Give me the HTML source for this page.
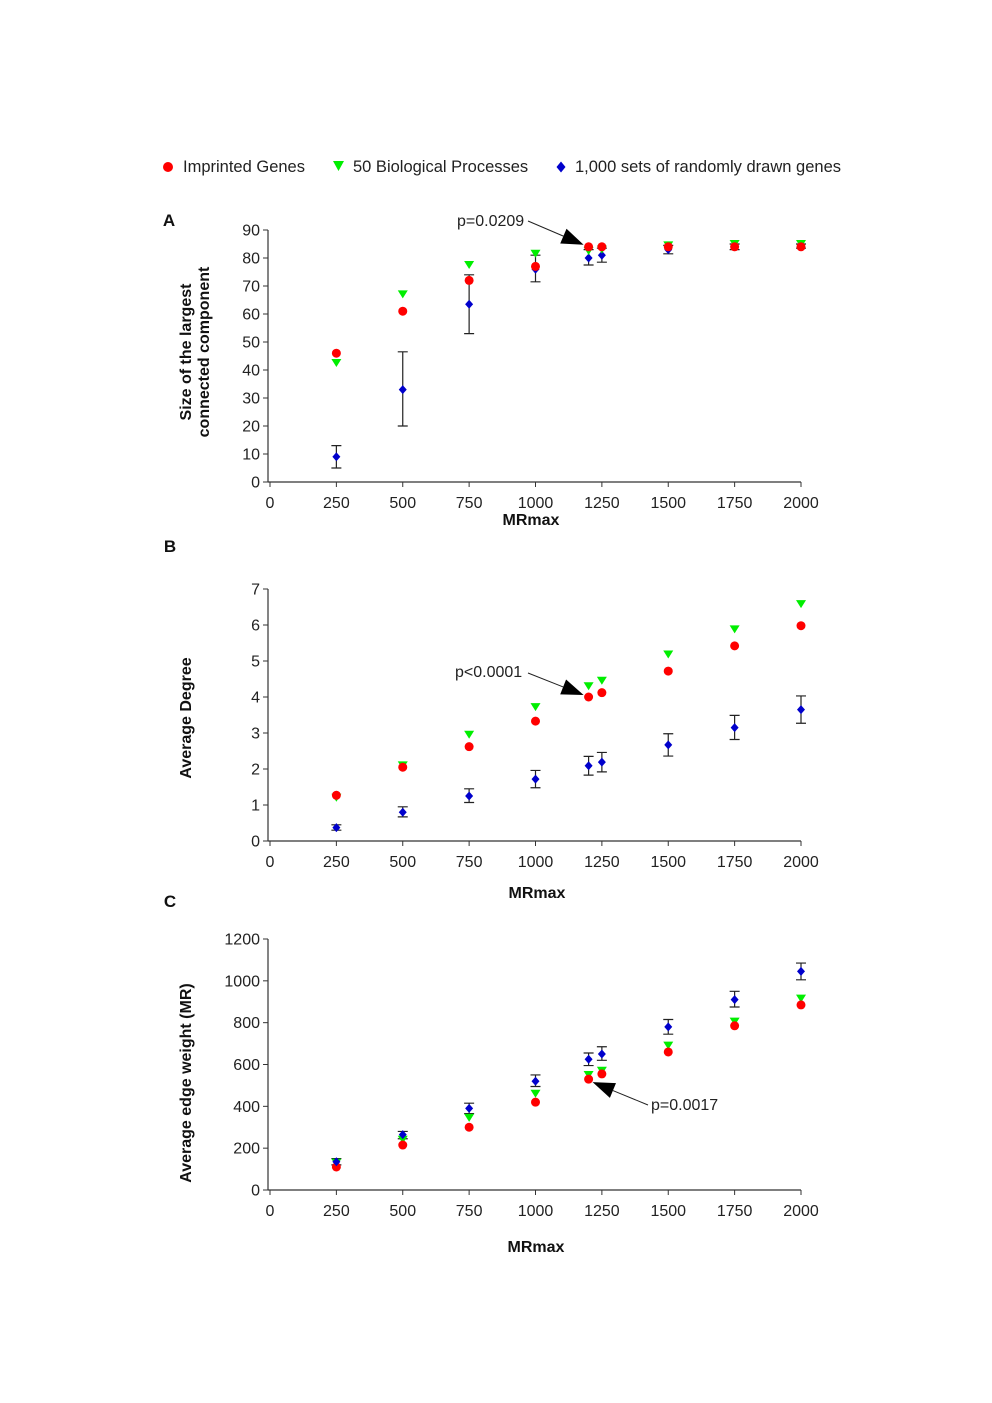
<!DOCTYPE html>
<html><head><meta charset="utf-8"><style>
html,body{margin:0;padding:0;background:#fff}
svg{display:block;font-family:"Liberation Sans",Arial,sans-serif}
</style></head><body>
<svg id="fig" width="992" height="1403" viewBox="0 0 992 1403">
<g font-size="16.5" fill="#222">
  <circle cx="168" cy="167" r="5" fill="#ff0000"/>
  <text x="183" y="172">Imprinted Genes</text>
  <polygon points="333,161 344,161 338.5,171" fill="#00ee00"/>
  <text x="353" y="172">50 Biological Processes</text>
  <polygon points="561,161.5 565.5,167 561,172.5 556.5,167" fill="#0000cc"/>
  <text x="575" y="172">1,000 sets of randomly drawn genes</text>
</g>
<g id="plots"></g>
</svg>
<script>
const xCats = [250, 500, 750, 1000, 1200, 1250, 1500, 1750, 2000];
const xTicks = [0, 250, 500, 750, 1000, 1250, 1500, 1750, 2000];

const aRed = [46, 61, 72, 77, 84, 84, 84, 84, 84];
const aGreen = [42.5, 67, 77.5, 81.5, 82.5, 83, 84.5, 85, 85];
const aBlue = [9, 33, 63.5, 76, 80, 81, 83, 84, 84];
const aBlueLo = [5, 20, 53, 71.5, 77.5, 78.5, 81.5, 83, 83.5];
const aBlueHi = [13, 46.5, 74, 81, 83, 83.5, 84.5, 85, 85];
const aTicks = [0, 10, 20, 30, 40, 50, 60, 70, 80, 90];

const bRed = [1.27, 2.05, 2.62, 3.33, 4.0, 4.12, 4.72, 5.42, 5.98];
const bGreen = [1.2, 2.1, 2.95, 3.72, 4.3, 4.45, 5.18, 5.88, 6.58];
const bBlue = [0.37, 0.8, 1.25, 1.72, 2.09, 2.19, 2.67, 3.15, 3.65];
const bBlueLo = [0.3, 0.67, 1.07, 1.48, 1.83, 1.92, 2.36, 2.82, 3.27];
const bBlueHi = [0.45, 0.95, 1.45, 1.96, 2.35, 2.46, 2.98, 3.49, 4.03];
const bTicks = [0, 1, 2, 3, 4, 5, 6, 7];

const cRed = [110, 215, 300, 420, 530, 555, 660, 785, 885];
const cGreen = [130, 240, 345, 460, 550, 570, 690, 805, 915];
const cBlue = [135, 265, 390, 520, 625, 650, 780, 910, 1045];
const cBlueLo = [120, 245, 365, 495, 595, 620, 745, 875, 1005];
const cBlueHi = [150, 280, 415, 550, 655, 685, 815, 950, 1085];
const cTicks = [0, 200, 400, 600, 800, 1000, 1200];

const NS = "http://www.w3.org/2000/svg";
const root = document.getElementById('plots');
function mk(tag, attrs, parent, txt) {
  const e = document.createElementNS(NS, tag);
  for (const k in attrs) e.setAttribute(k, attrs[k]);
  if (txt !== undefined) e.textContent = txt;
  parent.appendChild(e);
  return e;
}

function panel(cfg) {
  const g = mk('g', {}, root);
  
  
  const X0 = 270, X1 = 801;
  const sx = v => X0 + (v / 2000) * (X1 - X0);
  const sy = v => cfg.y0 - (v / cfg.ymax) * (cfg.y0 - cfg.ytop);
  const ax = mk('line', {x1: X0 - 2, y1: cfg.y0, x2: X1, y2: cfg.y0, stroke: '#333', 'stroke-width': 1.2}, g);
  
  
  const ay = mk('line', {x1: X0 - 2, y1: cfg.y0, x2: X0 - 2, y2: cfg.ytop, stroke: '#333', 'stroke-width': 1.2}, g);
  
  
  xTicks.forEach(t => {
    mk('line', {x1: sx(t), y1: cfg.y0, x2: sx(t), y2: cfg.y0 + 5, stroke: '#333'}, g);
    const tl = mk('text', {x: sx(t), y: cfg.y0 + 26, 'font-size': 16, 'text-anchor': 'middle', fill: '#222'}, g, t);
    
    
  });
  cfg.ticks.forEach(t => {
    mk('line', {x1: X0 - 7, y1: sy(t), x2: X0 - 2, y2: sy(t), stroke: '#333'}, g);
    const tl = mk('text', {x: X0 - 10, y: sy(t) + 5.5, 'font-size': 16, 'text-anchor': 'end', fill: '#222'}, g, t);
    
    
  });
  xCats.forEach((c, i) => {
    const x = sx(c), lo = sy(cfg.lo[i]), hi = sy(cfg.hi[i]);
    const eb = mk('path', {d: `M${x},${lo}V${hi}M${x-5},${lo}H${x+5}M${x-5},${hi}H${x+5}`, stroke: '#222', 'stroke-width': 1.2, fill: 'none'}, g);
    
    
  });
  const order = cfg.id === 'c' ? ['green', 'red', 'blue'] : ['blue', 'green', 'red'];
  order.forEach(s => {
    xCats.forEach((c, i) => {
      const x = sx(c);
      let e;
      if (s === 'red') {
        e = mk('circle', {cx: x, cy: sy(cfg.red[i]), r: 4.5, fill: '#ff0000'}, g);
        
      } else if (s === 'green') {
        const y = sy(cfg.green[i]);
        e = mk('polygon', {points: `${x-5},${y-4} ${x+5},${y-4} ${x},${y+4}`, fill: '#00ee00'}, g);
        
      } else {
        const y = sy(cfg.blue[i]);
        e = mk('polygon', {points: `${x},${y-4.5} ${x+4},${y} ${x},${y+4.5} ${x-4},${y}`, fill: '#0000cc'}, g);
        
      }
      
    });
  });
  const lt = mk('text', {x: cfg.letter[0], y: cfg.letter[1], 'font-size': 17, 'font-weight': 'bold', 'text-anchor': 'middle', fill: '#111'}, g, cfg.id.toUpperCase());
  
  
  const xt = mk('text', {x: cfg.xt[0], y: cfg.xt[1], 'font-size': 16, 'font-weight': 'bold', 'text-anchor': 'middle', fill: '#111'}, g, 'MRmax');
  
  
  cfg.ytitle.forEach((line, k) => {
    const yx = cfg.ytx + k * 18;
    const t = mk('text', {x: yx, y: cfg.yty, 'font-size': 16, 'font-weight': 'bold', 'text-anchor': 'middle', fill: '#111', transform: `rotate(-90 ${yx} ${cfg.yty})`}, g, line);
    
    
  });
  const an = cfg.ann;
  const at = mk('text', {x: an.tx, y: an.ty, 'font-size': 16, fill: '#222', 'text-anchor': an.anchor}, g, an.text);
  
  
  const tipX = sx(1200) + an.dx, tipY = sy(cfg.red[4]) + an.dy;
  const dxv = tipX - an.sx, dyv = tipY - an.sy, L = Math.hypot(dxv, dyv);
  const ux = dxv / L, uy = dyv / L, hl = 22, hw = 8;
  const bx = tipX - ux * hl, by = tipY - uy * hl;
  const al = mk('line', {x1: an.sx, y1: an.sy, x2: bx, y2: by, stroke: '#222', 'stroke-width': 1}, g);
  
  
  const ah = mk('polygon', {points: `${tipX},${tipY} ${bx - uy*hw},${by + ux*hw} ${bx + uy*hw},${by - ux*hw}`, fill: '#000'}, g);
  
  
}

panel({id: 'a', y0: 482, ytop: 230, ymax: 90, ticks: aTicks, red: aRed, green: aGreen, blue: aBlue, lo: aBlueLo, hi: aBlueHi,
  letter: [169, 226], xt: [531, 525], ytitle: ['Size of the largest', 'connected component'], ytx: 191, yty: 352,
  ann: {text: 'p=0.0209', tx: 457, ty: 226, anchor: 'start', sx: 528, sy: 221, dx: -5, dy: -2}});
panel({id: 'b', y0: 841, ytop: 589, ymax: 7, ticks: bTicks, red: bRed, green: bGreen, blue: bBlue, lo: bBlueLo, hi: bBlueHi,
  letter: [170, 552], xt: [537, 898], ytitle: ['Average Degree'], ytx: 191, yty: 718,
  ann: {text: 'p<0.0001', tx: 455, ty: 677, anchor: 'start', sx: 528, sy: 673, dx: -5, dy: -2}});
panel({id: 'c', y0: 1190, ytop: 939, ymax: 1200, ticks: cTicks, red: cRed, green: cGreen, blue: cBlue, lo: cBlueLo, hi: cBlueHi,
  letter: [170, 907], xt: [536, 1252], ytitle: ['Average edge weight (MR)'], ytx: 191, yty: 1083,
  ann: {text: 'p=0.0017', tx: 651, ty: 1110, anchor: 'start', sx: 648, sy: 1105, dx: 4, dy: 3}});
</script>
</body></html>
